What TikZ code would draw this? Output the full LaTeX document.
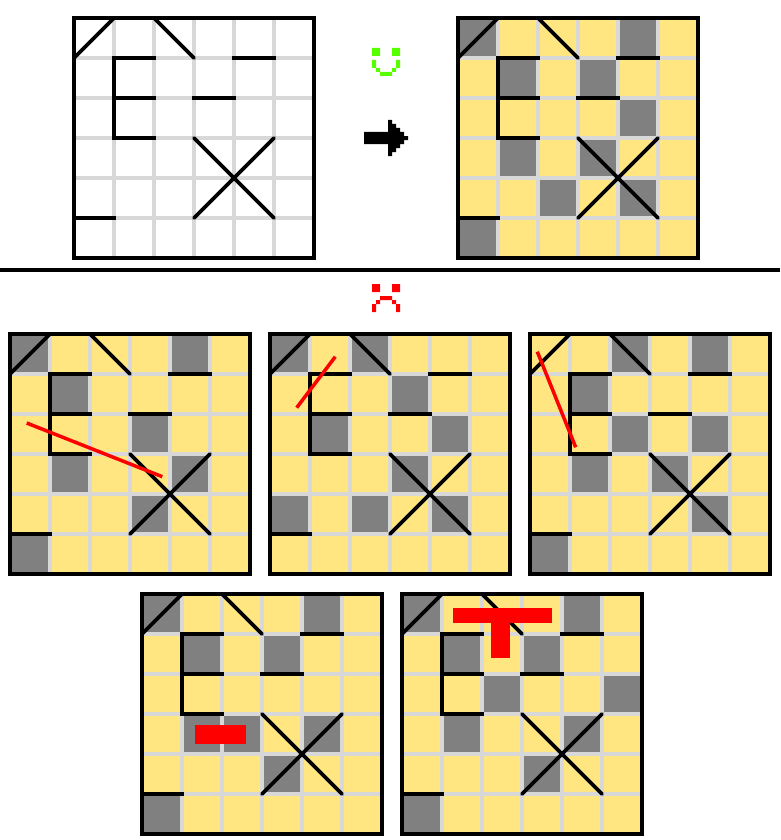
\documentclass[tikz,border=0pt]{standalone}
\usepackage{xcolor}
\usepackage{tikz}

\definecolor{cellyellow}{HTML}{FFE680}
\definecolor{cellgray}{HTML}{808080}
\definecolor{gridgray}{HTML}{D8D8D8}
\definecolor{smilegreen}{HTML}{55FF00}

\newcommand{\drawboard}[4]{
  \begin{scope}[shift={(#1,#2)}]
    \fill[#3] (0,0) rectangle (240,240);
    \foreach \cx/\cy in {#4}
      \fill[cellgray] (\cx*40,\cy*40) rectangle ++(40,40);
    \foreach \k in {40,80,...,200} {
      \draw[gridline] (\k,0) -- (\k,240);
      \draw[gridline] (0,\k) -- (240,\k);
    }
    \draw[wall] (80,40) -- (40,40) -- (40,120) -- (80,120);
    \draw[wall] (40,80) -- (80,80);
    \draw[wall] (160,40) -- (200,40);
    \draw[wall] (120,80) -- (160,80);
    \draw[wall] (0,200) -- (40,200);
    \draw[diag] (0,40) -- (40,0);
    \draw[diag] (80,0) -- (120,40);
    \draw[diag] (120,120) -- (200,200);
    \draw[diag] (120,200) -- (200,120);
    \draw[frame] (0,0) rectangle (240,240);
  \end{scope}
}

\begin{document}
\begin{tikzpicture}[
    x=1pt, y=-1pt,
    gridline/.style={gridgray, line width=4pt},
    wall/.style={black, line width=4pt, line cap=rect},
    diag/.style={black, line width=3.6pt, line cap=round},
    frame/.style={black, line width=4pt, line cap=rect},
    faultline/.style={red, line width=3.5pt},
    faultbar/.style={fill=red},
  ]
    \useasboundingbox (0,0) rectangle (780,840);
    \fill[white] (0,0) rectangle (780,840);

    \drawboard{74}{18}{white}{}
    \drawboard{458}{18}{cellyellow}{0/0,4/0,1/1,3/1,4/2,1/3,3/3,2/4,4/4,0/5}

    \fill[smilegreen] (372,48) rectangle (380,56) (392,48) rectangle (400,56)
      (372,60) rectangle (376,68) (376,68) rectangle (380,72) (380,72) rectangle (392,76)
      (392,68) rectangle (396,72) (396,60) rectangle (400,68);

    \fill[black] (364,132) rectangle (388,144) (388,120) rectangle (392,156)
      (392,124) rectangle (396,152) (396,128) rectangle (400,148)
      (400,132) rectangle (404,144) (404,136) rectangle (408,140);

    \fill[black] (0,268) rectangle (780,272);

    \fill[red] (372,284) rectangle (380,292) (392,284) rectangle (400,292)
      (380,296) rectangle (392,300) (376,300) rectangle (380,304) (372,304) rectangle (376,312)
      (392,300) rectangle (396,304) (396,304) rectangle (400,312);

    \drawboard{10}{334}{cellyellow}{0/0,4/0,1/1,3/2,1/3,4/3,3/4,0/5}
    \drawboard{270}{334}{cellyellow}{0/0,2/0,3/1,1/2,4/2,3/3,0/4,2/4,4/4}
    \drawboard{530}{334}{cellyellow}{2/0,4/0,1/1,2/2,4/2,1/3,3/3,4/4,0/5}
    \drawboard{142}{594}{cellyellow}{0/0,4/0,1/1,3/1,1/3,2/3,4/3,3/4,0/5}
    \drawboard{402}{594}{cellyellow}{0/0,4/0,1/1,3/1,2/2,5/2,1/3,4/3,3/4,0/5}

    \draw[faultline] (26.7,423) -- (162.3,476.7);
    \draw[faultline] (296.7,407.7) -- (335.3,356.7);
    \draw[faultline] (537.3,351.7) -- (575.7,447.3);
    \fill[faultbar] (195,725) rectangle (246,744);
    \fill[faultbar] (453,608) rectangle (552,623);
    \fill[faultbar] (491,623) rectangle (510,658);
  \end{tikzpicture}
\end{document}
